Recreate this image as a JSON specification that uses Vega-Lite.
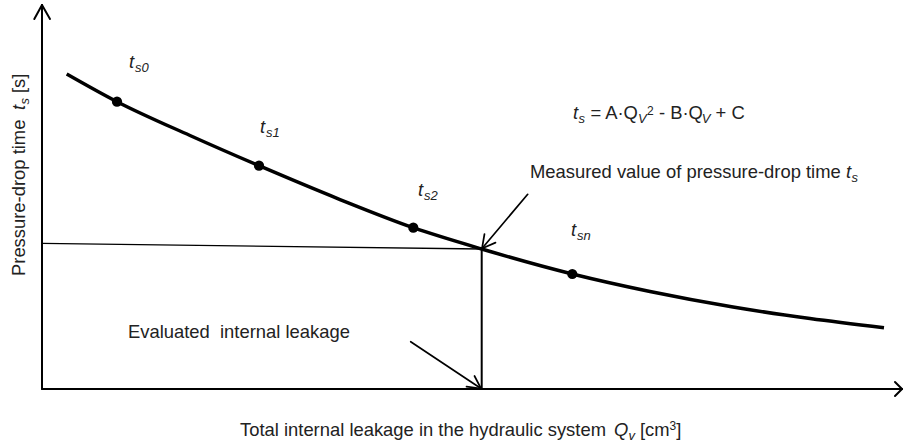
{
  "$schema": "https://vega.github.io/schema/vega-lite/v6.json",
  "width": 904,
  "height": 443,
  "padding": 0,
  "autosize": {"type": "fit", "contains": "padding"},
  "background": "white",
  "config": {"view": {"stroke": null}},
  "datasets": {
    "axes": [
      {"x": 0, "y": 0, "x2": 0, "y2": 101.053},
      {"x": 0, "y": 0, "x2": 100, "y2": 0},
      {"x": -0.895, "y": 97.368, "x2": 0, "y2": 101.053},
      {"x": 0.93, "y": 97.368, "x2": 0, "y2": 101.053},
      {"x": 99.186, "y": 1.842, "x2": 100, "y2": 0},
      {"x": 99.186, "y": -1.842, "x2": 100, "y2": 0},
      {"x": 51.128, "y": 36.842, "x2": 51.128, "y2": 0}
    ],
    "guide": [
      {"x": 0, "y": 38.342, "x2": 51.128, "y2": 36.842}
    ],
    "arrows": [
      {"x": 56.477, "y": 51.237, "x2": 51.163, "y2": 36.974},
      {"x": 51.453, "y": 40.789, "x2": 51.163, "y2": 36.974},
      {"x": 52.733, "y": 38.526, "x2": 51.163, "y2": 36.974},
      {"x": 42.872, "y": 12.447, "x2": 51.047, "y2": 0.132},
      {"x": 50.291, "y": 3.421, "x2": 51.047, "y2": 0.132},
      {"x": 49.36, "y": 0.632, "x2": 51.047, "y2": 0.132}
    ],
    "curve": [
      {"x": 2.872, "y": 82.895},
      {"x": 8.721, "y": 75.605},
      {"x": 17.209, "y": 66.711},
      {"x": 25.233, "y": 58.763},
      {"x": 34.651, "y": 49.868},
      {"x": 43.174, "y": 42.447},
      {"x": 51.128, "y": 36.842},
      {"x": 61.663, "y": 30.263},
      {"x": 70.698, "y": 25.658},
      {"x": 80.349, "y": 21.579},
      {"x": 89.302, "y": 18.553},
      {"x": 97.907, "y": 16.132}
    ],
    "measurements": [
      {"name": "ts0", "x": 8.721, "y": 75.605},
      {"name": "ts1", "x": 25.233, "y": 58.763},
      {"name": "ts2", "x": 43.174, "y": 42.447},
      {"name": "tsn", "x": 61.663, "y": 30.263}
    ],
    "text_regular": [
      {"x": 63.767, "y": 71.053, "label": "= A·Q"},
      {"x": 71.733, "y": 71.053, "label": "- B·Q"},
      {"x": 78.326, "y": 71.053, "label": "+ C"},
      {"x": 56.744, "y": 55.605, "label": "Measured value of pressure-drop time"},
      {"x": 10.0, "y": 13.342, "label": "Evaluated\u00a0 internal leakage"},
      {"x": 23.023, "y": -12.368, "label": "Total internal leakage in the hydraulic system"},
      {"x": 69.535, "y": -12.368, "label": "[cm"},
      {"x": 73.756, "y": -12.368, "label": "]"}
    ],
    "text_italic": [
      {"x": 10.116, "y": 84.474, "label": "t"},
      {"x": 25.349, "y": 67.368, "label": "t"},
      {"x": 43.721, "y": 50.789, "label": "t"},
      {"x": 61.512, "y": 40.263, "label": "t"},
      {"x": 61.744, "y": 71.053, "label": "t"},
      {"x": 93.488, "y": 55.605, "label": "t"},
      {"x": 66.512, "y": -12.368, "label": "Q"}
    ],
    "text_sub": [
      {"x": 10.814, "y": 83.421, "label": "s0"},
      {"x": 26.047, "y": 66.316, "label": "s1"},
      {"x": 44.419, "y": 49.737, "label": "s2"},
      {"x": 62.209, "y": 39.211, "label": "sn"},
      {"x": 62.395, "y": 70.0, "label": "s"},
      {"x": 69.291, "y": 70.0, "label": "V"},
      {"x": 76.721, "y": 70.0, "label": "V"},
      {"x": 94.14, "y": 54.605, "label": "s"},
      {"x": 68.198, "y": -13.421, "label": "v"}
    ],
    "text_sup": [
      {"x": 70.36, "y": 72.105, "label": "2"},
      {"x": 72.977, "y": -10.789, "label": "3"}
    ],
    "ytitle_regular": [
      {"x": -1.977, "y": 29.737, "label": "Pressure-drop time"},
      {"x": -1.977, "y": 77.895, "label": "[s]"}
    ],
    "ytitle_italic": [
      {"x": -1.977, "y": 73.421, "label": "t"}
    ],
    "ytitle_sub": [
      {"x": -1.512, "y": 74.868, "label": "s"}
    ]
  },
  "encoding": {
    "x": {"field": "x", "type": "quantitative", "axis": null, "scale": {"domain": [-4.8837, 100.2326], "nice": false, "zero": false}},
    "y": {"field": "y", "type": "quantitative", "axis": null, "scale": {"domain": [-14.2105, 102.3684], "nice": false, "zero": false}}
  },
  "layer": [
    {
      "data": {"name": "guide"},
      "mark": {"type": "rule", "color": "black", "strokeWidth": 1.3},
      "encoding": {"x2": {"field": "x2"}, "y2": {"field": "y2"}}
    },
    {
      "data": {"name": "axes"},
      "mark": {"type": "rule", "color": "black", "strokeWidth": 2, "strokeCap": "round"},
      "encoding": {"x2": {"field": "x2"}, "y2": {"field": "y2"}}
    },
    {
      "data": {"name": "arrows"},
      "mark": {"type": "rule", "color": "black", "strokeWidth": 1.7, "strokeCap": "round"},
      "encoding": {"x2": {"field": "x2"}, "y2": {"field": "y2"}}
    },
    {
      "data": {"name": "curve"},
      "mark": {"type": "line", "color": "black", "strokeWidth": 3.5, "interpolate": "monotone"},
      "encoding": {"order": {"field": "x", "type": "quantitative"}}
    },
    {
      "data": {"name": "measurements"},
      "mark": {"type": "point", "filled": true, "color": "black", "opacity": 1, "size": 105},
      "encoding": {}
    },
    {
      "data": {"name": "text_regular"},
      "mark": {"type": "text", "font": "Liberation Sans", "fontSize": 18.4, "align": "left", "baseline": "alphabetic", "color": "#222"},
      "encoding": {"text": {"field": "label"}}
    },
    {
      "data": {"name": "text_italic"},
      "mark": {"type": "text", "font": "Liberation Sans", "fontStyle": "italic", "fontSize": 18.4, "align": "left", "baseline": "alphabetic", "color": "#222"},
      "encoding": {"text": {"field": "label"}}
    },
    {
      "data": {"name": "text_sub"},
      "mark": {"type": "text", "font": "Liberation Sans", "fontStyle": "italic", "fontSize": 13, "align": "left", "baseline": "alphabetic", "color": "#222"},
      "encoding": {"text": {"field": "label"}}
    },
    {
      "data": {"name": "text_sup"},
      "mark": {"type": "text", "font": "Liberation Sans", "fontSize": 12, "align": "left", "baseline": "alphabetic", "color": "#222"},
      "encoding": {"text": {"field": "label"}}
    },
    {
      "data": {"name": "ytitle_regular"},
      "mark": {"type": "text", "font": "Liberation Sans", "fontSize": 18.4, "angle": 270, "align": "left", "baseline": "alphabetic", "color": "#222"},
      "encoding": {"text": {"field": "label"}}
    },
    {
      "data": {"name": "ytitle_italic"},
      "mark": {"type": "text", "font": "Liberation Sans", "fontStyle": "italic", "fontSize": 18.4, "angle": 270, "align": "left", "baseline": "alphabetic", "color": "#222"},
      "encoding": {"text": {"field": "label"}}
    },
    {
      "data": {"name": "ytitle_sub"},
      "mark": {"type": "text", "font": "Liberation Sans", "fontStyle": "italic", "fontSize": 13, "angle": 270, "align": "left", "baseline": "alphabetic", "color": "#222"},
      "encoding": {"text": {"field": "label"}}
    }
  ]
}
